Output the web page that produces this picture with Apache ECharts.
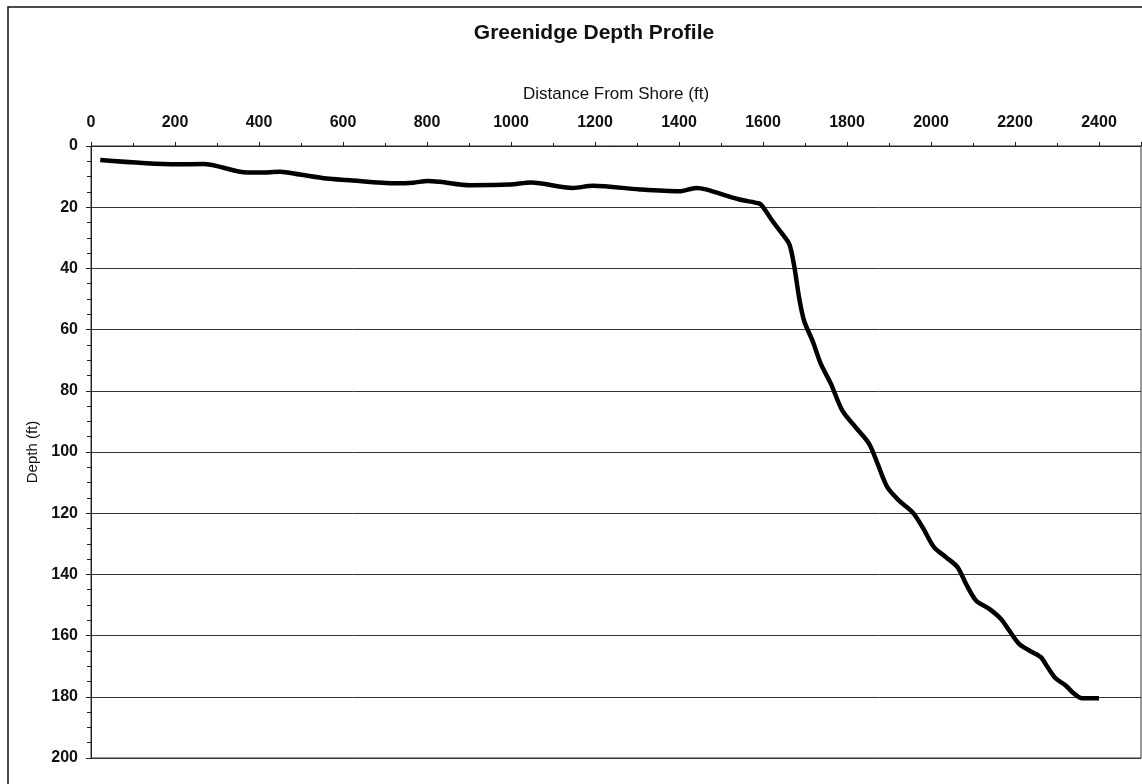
<!DOCTYPE html>
<html>
<head>
<meta charset="utf-8">
<script src="https://cdn.jsdelivr.net/npm/echarts@6/dist/echarts.min.js"></script>
<style>
  html, body { margin: 0; padding: 0; background: #fff; }
  #depth-profile { width: 1142px; height: 784px; }
</style>
</head>
<body>
<div id="depth-profile"></div>
<script>
  // distance from shore (ft) and depth (ft)
  var distance = [22, 204, 267, 355, 402, 450, 497, 561, 609, 727, 767, 802, 831, 902, 997, 1048,
    1147, 1195, 1306, 1401, 1441, 1464, 1544, 1591, 1599, 1623, 1647, 1663, 1675, 1686, 1698,
    1718, 1738, 1762, 1789, 1821, 1853, 1873, 1896, 1924, 1956, 1980, 2007, 2035, 2063, 2083,
    2107, 2138, 2166, 2186, 2209, 2233, 2261, 2277, 2297, 2320, 2340, 2360, 2400];
  var depth = [4.6, 6.0, 5.9, 8.4, 8.7, 8.4, 9.3, 10.6, 11.1, 12.2, 12.0, 11.4, 11.7, 12.8, 12.6, 11.9,
    13.7, 13.0, 14.2, 14.8, 13.7, 14.2, 17.5, 18.8, 19.7, 24.6, 28.9, 32.2, 39.8, 49.6, 57.2,
    63.7, 71.3, 77.8, 86.5, 92.0, 97.4, 103.9, 111.5, 115.9, 119.7, 124.6, 131.1, 134.3, 137.6, 143.0,
    148.5, 151.2, 154.5, 158.3, 162.6, 164.8, 167.0, 170.2, 174.0, 176.2, 178.9, 180.5, 180.5];

  var chartTitle = 'Greenidge Depth Profile';
  var xName = 'Distance From Shore (ft)';
  var yName = 'Depth (ft)';

  var points = distance.map(function (d, i) { return [d, depth[i]]; });

  var font = '"Liberation Sans", Arial, sans-serif';
  var depthChart = echarts.init(document.getElementById('depth-profile'));

  depthChart.setOption({
    animation: false,
    backgroundColor: '#fff',
    graphic: [
      {
        type: 'rect',
        shape: { x: 8, y: 7, width: 1160, height: 800 },
        style: { fill: 'none', stroke: '#111', lineWidth: 1.5 },
        silent: true
      }
    ],
    title: {
      text: chartTitle,
      left: 589,
      top: 18,
      textAlign: 'center',
      textStyle: { fontFamily: font, fontSize: 21, fontWeight: 'bold', color: '#111' }
    },
    grid: {
      left: 91,
      top: 146,
      right: 1,
      bottom: 26,
      show: true,
      borderColor: '#333',
      borderWidth: 1
    },
    xAxis: {
      type: 'value',
      position: 'top',
      min: 0,
      max: 2500,
      interval: 200,
      name: xName,
      nameLocation: 'middle',
      nameGap: 43,
      nameTextStyle: { fontFamily: font, fontSize: 17, color: '#111' },
      axisLine: { lineStyle: { color: '#222', width: 1 } },
      axisTick: { show: true, length: 4, lineStyle: { color: '#222' } },
      minorTick: { show: true, splitNumber: 2, length: 3, lineStyle: { color: '#222' } },
      axisLabel: {
        showMaxLabel: false,
        margin: 15,
        formatter: function (v) { return String(v); },
        fontFamily: font,
        fontSize: 16,
        fontWeight: 'bold',
        color: '#111'
      },
      splitLine: { show: false }
    },
    yAxis: {
      type: 'value',
      inverse: true,
      min: 0,
      max: 200,
      interval: 20,
      name: yName,
      nameLocation: 'middle',
      nameGap: 50,
      nameRotate: 90,
      nameTextStyle: { fontFamily: font, fontSize: 15, color: '#111' },
      axisLine: { show: true, lineStyle: { color: '#222', width: 1 } },
      axisTick: { show: true, length: 5, lineStyle: { color: '#222' } },
      minorTick: { show: true, splitNumber: 4, length: 4, lineStyle: { color: '#222' } },
      axisLabel: {
        margin: 13,
        formatter: function (v) { return String(v); },
        fontFamily: font,
        fontSize: 16,
        fontWeight: 'bold',
        color: '#111'
      },
      splitLine: { show: true, lineStyle: { color: '#333', width: 1 } }
    },
    series: [
      {
        type: 'line',
        data: points,
        smooth: 0.3,
        showSymbol: false,
        lineStyle: { color: '#000', width: 4.5 }
      }
    ]
  });
</script>
</body>
</html>
